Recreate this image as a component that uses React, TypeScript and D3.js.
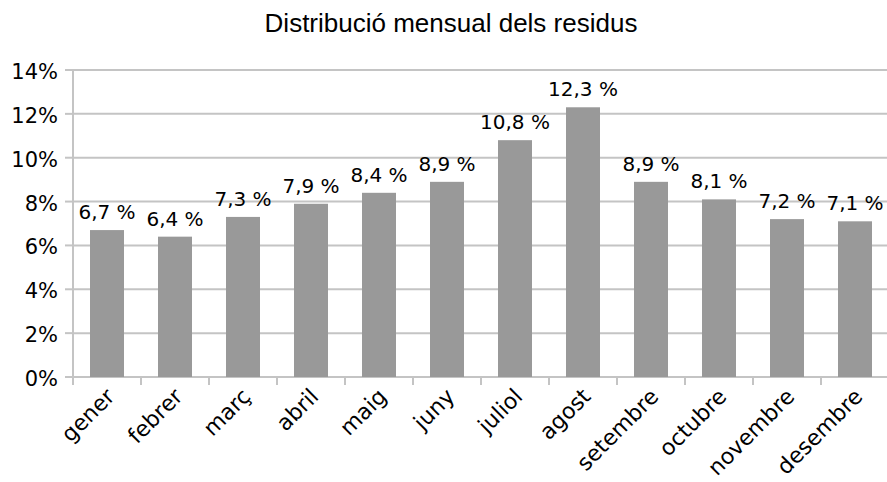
import React from "react";
import * as d3 from "d3";

const months = ["gener", "febrer", "març", "abril", "maig", "juny", "juliol", "agost", "setembre", "octubre", "novembre", "desembre"];
const shares = [6.7, 6.4, 7.3, 7.9, 8.4, 8.9, 10.8, 12.3, 8.9, 8.1, 7.2, 7.1];
const yTicks = [0, 2, 4, 6, 8, 10, 12, 14];

const W = 887;
const H = 482;
const plot = { left: 73, right: 889, top: 70, bottom: 377 };
const font = "'DejaVu Sans', Verdana, sans-serif";

const App = () => {
    const x = d3.scaleBand<string>().domain(months).range([plot.left, plot.right]).paddingInner(0).paddingOuter(0);
    const y = d3.scaleLinear().domain([0, 14]).range([plot.bottom, plot.top]);
    const bw = x.bandwidth() * 0.5;
    const fmt = (v: number) => v.toFixed(1).replace(".", ",") + " %";

    return (
        <div style={{ position: "absolute", left: 0, top: 0 }}>
            <svg width={W} height={H} style={{ display: "block", background: "#fff" }}>
                <text x={451} y={32} textAnchor="middle" fontFamily="'Liberation Sans', Arial, sans-serif" fontSize={26} fill="#000">
                    Distribució mensual dels residus
                </text>

                {/* gridlines + y ticks */}
                {yTicks.map(t => (
                    <g key={t}>
                        <line x1={plot.left} x2={W} y1={y(t)} y2={y(t)} stroke="#c4c4c4" strokeWidth={2} />
                        <line x1={plot.left - 8} x2={plot.left} y1={y(t)} y2={y(t)} stroke="#c4c4c4" strokeWidth={2} />
                        <text x={58} y={y(t) + 9} textAnchor="end" fontFamily={font} fontSize={21} fill="#000">{t}%</text>
                    </g>
                ))}
                <line x1={plot.left} x2={plot.left} y1={plot.top} y2={plot.bottom} stroke="#c4c4c4" strokeWidth={2} />

                {/* x tick marks */}
                {months.map(m => (
                    <line key={m} x1={x(m)!} x2={x(m)!} y1={plot.bottom} y2={plot.bottom + 8} stroke="#c4c4c4" strokeWidth={2} />
                ))}

                {/* bars */}
                {months.map((m, i) => {
                    const cx = x(m)! + x.bandwidth() / 2;
                    return (
                        <g key={m}>
                            <rect x={cx - bw / 2} y={y(shares[i])} width={bw} height={plot.bottom - y(shares[i])} fill="#999999" />
                            <text x={cx} y={y(shares[i]) - 11} textAnchor="middle" fontFamily={font} fontSize={20} fill="#000">
                                {fmt(shares[i])}
                            </text>
                            <text
                                transform={`translate(${cx - 2},${plot.bottom + 10}) rotate(-45)`}
                                textAnchor="end"
                                dy="0.7em"
                                fontFamily={font}
                                fontSize={22}
                                fill="#000"
                            >
                                {m}
                            </text>
                        </g>
                    );
                })}
            </svg>
        </div>
    );
};

export default App;
